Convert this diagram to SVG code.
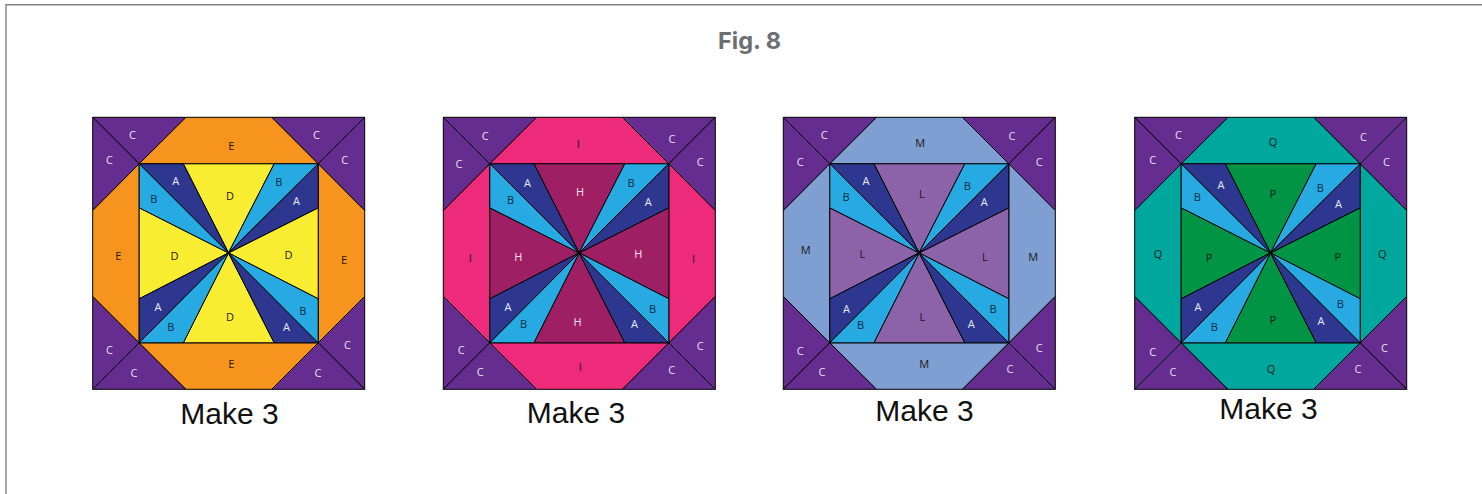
<svg xmlns="http://www.w3.org/2000/svg" xmlns:xlink="http://www.w3.org/1999/xlink" width="1482" height="494" viewBox="0 0 1482 494">
<style>
text{font-family:"Open Sans","Noto Sans","Liberation Sans",sans-serif;text-anchor:middle;dominant-baseline:central;font-size:11px}
.p{stroke:#000;stroke-width:1;stroke-linejoin:miter}
.c{fill:#652d90}.a{fill:#2e3790}.b{fill:#27aae1}
.d{fill:var(--center)}.e{fill:var(--ring)}
.lc{fill:#e6e0f0}.la{fill:#e6e8f5}.lb{fill:#0b2a45}.ld{fill:var(--lc,#1a1a1a)}.le{fill:#1a1a1a}
.make{font-family:"Liberation Sans",Arial,sans-serif;font-size:30px;fill:#111;dominant-baseline:auto}
.title{font-family:Inter,"Liberation Sans",sans-serif;font-weight:700;font-size:23.500px;fill:#6d6e71;dominant-baseline:auto}
.frame{fill:none;stroke:#808080;stroke-width:1.4}
#b1{--center:#f9ed32;--ring:#f7941d}
#b2{--center:#9e1f63;--ring:#ee2a7b;--lc:#f0e0ea}
#b3{--center:#8c62a8;--ring:#7f9fd3}
#b4{--center:#009444;--ring:#00a79d}
</style>
<defs>
<g id="quilt">
<polygon class="p c" points="0,0 93.3,0 46.5,46.5"/>
<polygon class="p c" points="0,0 0,93.3 46.5,46.5"/>
<polygon class="p c" points="272,0 179,0 225.5,46.5"/>
<polygon class="p c" points="272,0 272,93.3 225.5,46.5"/>
<polygon class="p c" points="0,272 0,179 46.5,225.5"/>
<polygon class="p c" points="0,272 93.3,272 46.5,225.5"/>
<polygon class="p c" points="272,272 272,179 225.5,225.5"/>
<polygon class="p c" points="272,272 179,272 225.5,225.5"/>
<polygon class="p e" points="93.3,0 179,0 225.5,46.5 46.5,46.5"/>
<polygon class="p e" points="93.3,272 179,272 225.5,225.5 46.5,225.5"/>
<polygon class="p e" points="0,93.3 0,179 46.5,225.5 46.5,46.5"/>
<polygon class="p e" points="272,93.3 272,179 225.5,225.5 225.5,46.5"/>
<polygon class="p d" points="90.6,46.5 181.5,46.5 135.8,135.6"/>
<polygon class="p d" points="90.6,225.5 181.5,225.5 135.8,135.6"/>
<polygon class="p d" points="46.5,90.5 46.5,181.5 135.8,135.6"/>
<polygon class="p d" points="225.5,90.5 225.5,181.5 135.8,135.6"/>
<polygon class="p a" points="46.5,46.5 90.6,46.5 135.8,135.6"/>
<polygon class="p b" points="46.5,46.5 46.5,90.5 135.8,135.6"/>
<polygon class="p b" points="181.5,46.5 225.5,46.5 135.8,135.6"/>
<polygon class="p a" points="225.5,46.5 225.5,90.5 135.8,135.6"/>
<polygon class="p a" points="181.5,225.5 225.5,225.5 135.8,135.6"/>
<polygon class="p b" points="225.5,225.5 225.5,181.5 135.8,135.6"/>
<polygon class="p a" points="46.5,181.5 46.5,225.5 135.8,135.6"/>
<polygon class="p b" points="46.5,225.5 90.6,225.5 135.8,135.6"/>
</g>
</defs>
<rect width="1482" height="494" fill="#fff"/>
<path class="frame" d="M6,494V4.800H1482"/>
<text class="title" x="749.500" y="48.500">Fig. 8</text>

<g id="b1" transform="translate(92.7 117.3)">
<use href="#quilt" xlink:href="#quilt"/>
<g class="lc"><text x="39.700" y="17.700">C</text><text x="16.700" y="42.700">C</text><text x="223.700" y="17.700">C</text><text x="252" y="42.700">C</text><text x="16.700" y="232.700">C</text><text x="41.300" y="255.300">C</text><text x="254.700" y="227.700">C</text><text x="225.300" y="255.300">C</text></g>
<g class="le"><text x="138.700" y="28.700">E</text><text x="25.700" y="138">E</text><text x="251.300" y="142.700">E</text><text x="138.700" y="246.700">E</text></g>
<g class="ld"><text x="137.300" y="78.700">D</text><text x="81.700" y="138">D</text><text x="195.700" y="137.700">D</text><text x="137.300" y="199.700">D</text></g>
<g class="la"><text x="83" y="63">A</text><text x="203.700" y="83">A</text><text x="65.300" y="189.700">A</text><text x="193.700" y="209.700">A</text></g>
<g class="lb"><text x="61" y="81">B</text><text x="186" y="64.700">B</text><text x="78" y="209.700">B</text><text x="210" y="193.700">B</text></g>
</g>
<text class="make" x="229.500" y="424">Make 3</text>

<g id="b2" transform="translate(443.3 117.3)">
<use href="#quilt" xlink:href="#quilt"/>
<g class="lc"><text x="42" y="18.700">C</text><text x="15.700" y="46">C</text><text x="228.700" y="21.700">C</text><text x="257" y="44.700">C</text><text x="18" y="232.700">C</text><text x="37" y="254.700">C</text><text x="257" y="228.700">C</text><text x="228.300" y="252.700">C</text></g>
<g class="le"><text x="135" y="26.700">I</text><text x="27" y="140.700">I</text><text x="250.300" y="141.700">I</text><text x="137" y="249.700">I</text></g>
<g class="ld"><text x="136.700" y="74.700">H</text><text x="75" y="139.700">H</text><text x="195" y="136.300">H</text><text x="134.300" y="204.700">H</text></g>
<g class="la"><text x="84.300" y="65.700">A</text><text x="205" y="84.700">A</text><text x="64.700" y="189.700">A</text><text x="191.300" y="206.700">A</text></g>
<g class="lb"><text x="67.300" y="82">B</text><text x="187.700" y="65.700">B</text><text x="80.300" y="206.700">B</text><text x="209.300" y="191.700">B</text></g>
</g>
<text class="make" x="576" y="423">Make 3</text>

<g id="b3" transform="translate(783.3 117.3)">
<use href="#quilt" xlink:href="#quilt"/>
<g class="lc"><text x="41" y="17.700">C</text><text x="17" y="44.700">C</text><text x="228.700" y="18.700">C</text><text x="256" y="44.700">C</text><text x="17" y="233.700">C</text><text x="38.700" y="254.700">C</text><text x="256" y="230.700">C</text><text x="226.700" y="251.700">C</text></g>
<g class="le"><text x="137" y="25.700">M</text><text x="22.300" y="132.700">M</text><text x="250" y="139.700">M</text><text x="141" y="246.700">M</text></g>
<g class="ld"><text x="138.700" y="76.700">L</text><text x="79" y="136.700">L</text><text x="201.700" y="139.700">L</text><text x="139" y="199.700">L</text></g>
<g class="la"><text x="82.700" y="63.700">A</text><text x="201" y="84.700">A</text><text x="63.300" y="191.700">A</text><text x="188" y="206.700">A</text></g>
<g class="lb"><text x="62.700" y="79.700">B</text><text x="184" y="68.700">B</text><text x="77.300" y="207.700">B</text><text x="209.700" y="191.700">B</text></g>
</g>
<text class="make" x="924.500" y="421">Make 3</text>

<g id="b4" transform="translate(1134.7 117.3)">
<use href="#quilt" xlink:href="#quilt"/>
<g class="lc"><text x="43.700" y="17.700">C</text><text x="18" y="42.700">C</text><text x="228.700" y="19.700">C</text><text x="251.700" y="44.700">C</text><text x="18" y="234.700">C</text><text x="38.300" y="254.700">C</text><text x="249.700" y="230.700">C</text><text x="223.300" y="251.700">C</text></g>
<g class="le"><text x="138.300" y="24.700">Q</text><text x="23.300" y="136.700">Q</text><text x="247.700" y="136.700">Q</text><text x="136.300" y="251.700">Q</text></g>
<g class="ld"><text x="138" y="76.700">P</text><text x="74.300" y="140.700">P</text><text x="203" y="139.700">P</text><text x="138" y="202.700">P</text></g>
<g class="la"><text x="86.300" y="67.700">A</text><text x="203.700" y="86.700">A</text><text x="63.300" y="189.700">A</text><text x="186.300" y="203.700">A</text></g>
<g class="lb"><text x="62.700" y="79.700">B</text><text x="185.700" y="70.700">B</text><text x="79.700" y="209.700">B</text><text x="205.700" y="186.700">B</text></g>
</g>
<text class="make" x="1268.500" y="419">Make 3</text>
</svg>
